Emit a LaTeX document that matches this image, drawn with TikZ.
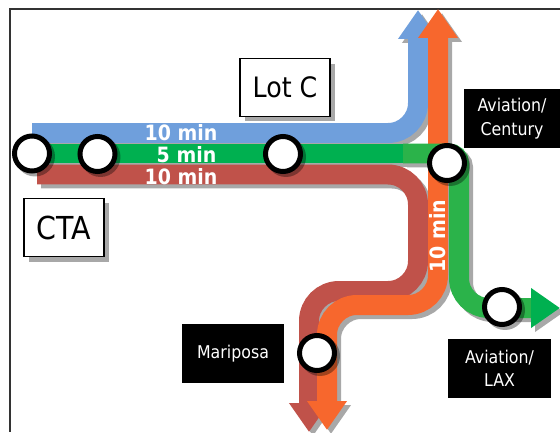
\documentclass[tikz,border=0pt]{standalone}
\usepackage{fontspec}
\setmainfont[FakeStretch=0.9]{DejaVu Sans}
\usetikzlibrary{arrows.meta}

\definecolor{routeblue}{HTML}{6F9FDC}
\definecolor{routegreen}{HTML}{00B050}
\definecolor{routelight}{HTML}{2BB34A}
\definecolor{routered}{HTML}{C0524A}
\definecolor{routeorange}{HTML}{F7672D}
\definecolor{shadowgrey}{HTML}{A8A8A8}

\tikzset{
	>={Triangle[length=0.58cm,width=0.76cm]},
	routeline/.style={line width=0.4cm},
	routelabel/.style={text=white,font=\fontsize{12}{13}\selectfont\bfseries,inner sep=0pt},
	placebox/.style={draw=black,line width=0.03cm,fill=white,font=\fontsize{16}{18}\selectfont,minimum width=#1,minimum height=1.16cm,inner sep=0pt},
	darkbox/.style={fill=black,text=white,font=\fontsize{10}{13.4}\selectfont,align=center,minimum width=#1,minimum height=1.18cm,inner sep=0pt},
	station/.style={circle,draw=black,line width=0.1cm,fill=white,minimum size=0.7cm,inner sep=0pt},
	boxshadow/.style={fill=shadowgrey}
}

\newcommand{\bluepath}{(32,133) [rounded corners=0.6cm] -- (418,133) -- (418,10)}
\newcommand{\redpath}{(37,174.5) [rounded corners=0.6cm] -- (418,174.5) -- (418,291) -- (309,291) -- (309,432)}
\newcommand{\orangepath}{(438,9) [rounded corners=0.6cm] -- (438,305) -- (327,305) -- (327,430)}
\newcommand{\greenpath}{(403,153.5) [rounded corners=0.2cm] -- (459,153.5) [rounded corners=0.6cm] -- (459,308) -- (560,308)}

\begin{document}
\begin{tikzpicture}[x=0.02cm,y=-0.02cm]
	\useasboundingbox (0,0) rectangle (560,432);

	% Cornice
	\coordinate (frametop) at (560,9);
	\coordinate (framecorner) at (10,9);
	\coordinate (framebottom) at (10,432);
	\draw[line width=0.03cm,black!80] (frametop) -- (framecorner) -- (framebottom);

	% Ombre delle linee
	\begin{scope}[shift={(4,4)},shadowgrey]
		\draw[routeline,->] \bluepath;
		\draw[routeline,->] \redpath;
		\draw[routeline,<->] \orangepath;
		\draw[routeline] (32,153.5) -- (403,153.5);
		\draw[routeline,->] \greenpath;
	\end{scope}

	% Linee
	\draw[routeline,routeblue,->] \bluepath;
	\draw[routeline,routered,->] \redpath;
	\draw[routeline,routeorange,<->] \orangepath;
	\draw[routeline,routegreen] (32,153.5) -- (403,153.5);
	\draw[routeline,routelight,-{Triangle[length=0.58cm,width=0.76cm,color=routegreen]}] \greenpath;

	% Tempi
	\node[routelabel] (blueTime) at (181,133) {10 min};
	\node[routelabel] (greenTime) at (186.5,155) {5 min};
	\node[routelabel] (redTime) at (181,177) {10 min};
	\node[routelabel,rotate=90] (orangeTime) at (438,236) {10 min};

	% Fermate
	\foreach \name/\pos in {cta/{(32,153.5)},lotA/{(97.5,154)},lotB/{(283,154)},century/{(447,163)},lax/{(502,307)},mariposa/{(317,353)}} {
		\fill[black,opacity=0.35] \pos ++(3,3) circle (0.4cm);
		\node[station] (\name) at \pos {};
	}

	% Etichette
	\fill[boxshadow] (245,64) rectangle (335,121);
	\node[placebox=1.8cm] (lotC) at (285,87.5) {Lot C};
	\fill[boxshadow] (29,203) rectangle (109,262);
	\node[placebox=1.6cm,font=\fontsize{18}{20}\selectfont] (ctaLabel) at (64,227.5) {CTA};
	\node[darkbox=1.92cm] (centuryLabel) at (512,118.5) {Aviation/\\Century};
	\node[darkbox=2.04cm] (mariposaLabel) at (233,353.5) {Mariposa};
	\node[darkbox=2.06cm] (laxLabel) at (499.5,368.5) {Aviation/\\LAX};
\end{tikzpicture}
\end{document}
